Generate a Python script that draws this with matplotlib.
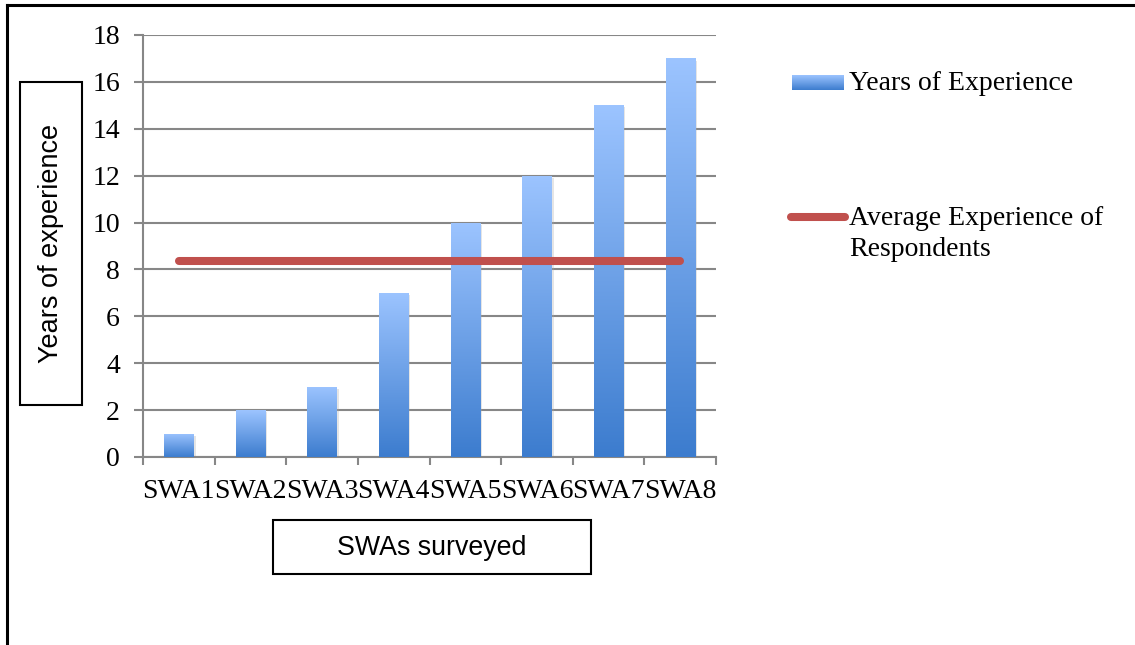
import numpy as np
import matplotlib
matplotlib.use("Agg")
import matplotlib.pyplot as plt
from matplotlib.colors import LinearSegmentedColormap
from matplotlib.patches import Rectangle
from matplotlib.lines import Line2D
import matplotlib.patheffects as pe

# data
categories = ['SWA1', 'SWA2', 'SWA3', 'SWA4', 'SWA5', 'SWA6', 'SWA7', 'SWA8']
years = [1, 2, 3, 7, 10, 12, 15, 17]
avg_experience = 8.375
yticks = [0, 2, 4, 6, 8, 10, 12, 14, 16, 18]

W, H = 1135, 645
fig = plt.figure(figsize=(W / 100, H / 100), dpi=100)

def fx(px):
    return px / W

def fy(py):
    return 1 - py / H

ax = fig.add_axes([fx(143), fy(457), fx(716) - fx(143), fy(35) - fy(457)])

serif = 'Liberation Serif'
sans = 'Liberation Sans'
grey = '#878787'
blue_cmap = LinearSegmentedColormap.from_list('bar', ['#3C7CCE', '#9CC4FF'])
grad = np.linspace(0, 1, 256).reshape(-1, 1)

x = np.arange(len(categories))
bw = 0.41
bars = ax.bar(x, years, width=bw, color='none', edgecolor='none', zorder=2)
for b in bars:
    b.set_path_effects([pe.SimplePatchShadow(offset=(1.5, -1.5), shadow_rgbFace='#aaaaaa', alpha=0.3),
                        pe.Normal()])
    bx, by = b.get_x(), b.get_y()
    im = ax.imshow(grad, cmap=blue_cmap, origin='lower', aspect='auto',
                   extent=[bx, bx + b.get_width(), by, by + b.get_height()], zorder=3)
    im.set_clip_path(b)

ax.plot(x, [avg_experience] * len(x), color='#C0504D', lw=5.8,
        solid_capstyle='round', zorder=4)

ax.set_xlim(-0.5, len(categories) - 0.5)
ax.set_ylim(0, 18)
ax.set_yticks(yticks)
ax.set_yticklabels([str(t) for t in yticks], fontfamily=serif, fontsize=20)
ax.set_xticks(x)
ax.set_xticklabels(categories, fontfamily=serif, fontsize=20)
ax.set_xticks(np.arange(-0.5, len(categories)), minor=True)
ax.tick_params(axis='x', which='major', length=0, pad=16)
ax.tick_params(axis='x', which='minor', length=6, width=1.5, color=grey, direction='out')
ax.tick_params(axis='y', length=6.5, width=1.5, color=grey, direction='out', pad=10)
ax.grid(axis='y', color=grey, lw=1.5)
ax.set_axisbelow(True)
for s in ['top', 'right']:
    ax.spines[s].set_visible(False)
for s in ['left', 'bottom']:
    ax.spines[s].set_color(grey)
    ax.spines[s].set_linewidth(1.5)

# outer frame (top and left edges only visible)
fig.add_artist(Line2D([fx(7), 1], [fy(5), fy(5)], color='black', lw=2.2))
fig.add_artist(Line2D([fx(7), fx(7)], [fy(5), 0], color='black', lw=2.2))

# axis title boxes
fig.add_artist(Rectangle((fx(20), fy(405)), fx(82) - fx(20), fy(82) - fy(405),
                         fill=False, edgecolor='black', lw=1.5))
fig.text(fx(51), fy(243), 'Years of experience', rotation=90, ha='center', va='center',
         fontfamily=sans, fontsize=19.5)
fig.add_artist(Rectangle((fx(273), fy(574)), fx(591) - fx(273), fy(520) - fy(574),
                         fill=False, edgecolor='black', lw=1.5))
fig.text(fx(432), fy(548), 'SWAs surveyed', ha='center', va='center',
         fontfamily=sans, fontsize=19.3)

# legend
leg_ax = fig.add_axes([fx(792), fy(90), fx(844) - fx(792), fy(75) - fy(90)])
leg_ax.imshow(grad, cmap=blue_cmap, origin='lower', aspect='auto')
leg_ax.axis('off')
fig.text(fx(849), fy(83), 'Years of Experience', ha='left', va='center',
         fontfamily=serif, fontsize=20)
fig.add_artist(Line2D([fx(791), fx(845)], [fy(217), fy(217)], color='#C0504D', lw=5.8,
                      solid_capstyle='round'))
fig.text(fx(849), fy(234), 'Average Experience of\nRespondents', ha='left', va='center',
         fontfamily=serif, fontsize=20, linespacing=1.36)

fig.savefig('out.png', dpi=100)
